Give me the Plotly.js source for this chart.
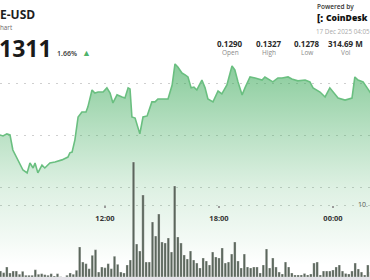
<!DOCTYPE html>
<html><head><meta charset="utf-8">
<script src="https://cdn.plot.ly/plotly-3.0.1.min.js"></script>
<style>html,body{margin:0;padding:0;background:#fff;overflow:hidden}#chart{width:370px;height:280px}</style>
</head><body><div id="chart"></div>
<script>
// ---- data ----
const priceTimes = [
 '2025-12-16 06:28','2025-12-16 06:38','2025-12-16 06:50','2025-12-16 07:00','2025-12-16 07:09','2025-12-16 07:22',
 '2025-12-16 07:32','2025-12-16 07:41','2025-12-16 07:54','2025-12-16 08:03','2025-12-16 08:13','2025-12-16 08:19',
 '2025-12-16 08:28','2025-12-16 08:41','2025-12-16 08:50','2025-12-16 09:06','2025-12-16 09:22','2025-12-16 09:44',
 '2025-12-16 10:03','2025-12-16 10:09','2025-12-16 10:16','2025-12-16 10:25','2025-12-16 10:35','2025-12-16 10:47',
 '2025-12-16 11:00','2025-12-16 11:06','2025-12-16 11:19','2025-12-16 11:28','2025-12-16 11:38','2025-12-16 11:54',
 '2025-12-16 12:06','2025-12-16 12:16','2025-12-16 12:25','2025-12-16 12:38','2025-12-16 12:54','2025-12-16 13:03',
 '2025-12-16 13:13','2025-12-16 13:19','2025-12-16 13:25','2025-12-16 13:35','2025-12-16 13:50','2025-12-16 14:00',
 '2025-12-16 14:13','2025-12-16 14:28','2025-12-16 14:38','2025-12-16 14:47','2025-12-16 15:03','2025-12-16 15:19',
 '2025-12-16 15:32','2025-12-16 15:41','2025-12-16 15:50','2025-12-16 16:03','2025-12-16 16:13','2025-12-16 16:22',
 '2025-12-16 16:32','2025-12-16 16:41','2025-12-16 16:50','2025-12-16 17:06','2025-12-16 17:16','2025-12-16 17:25',
 '2025-12-16 17:41','2025-12-16 17:57','2025-12-16 18:09','2025-12-16 18:25','2025-12-16 18:41','2025-12-16 18:50',
 '2025-12-16 19:00','2025-12-16 19:13','2025-12-16 19:22','2025-12-16 19:38','2025-12-16 19:54','2025-12-16 20:03',
 '2025-12-16 20:16','2025-12-16 20:25','2025-12-16 20:41','2025-12-16 20:50','2025-12-16 21:06','2025-12-16 21:19',
 '2025-12-16 21:38','2025-12-16 21:50','2025-12-16 22:09','2025-12-16 22:32','2025-12-16 22:47','2025-12-16 22:57',
 '2025-12-16 23:19','2025-12-16 23:35','2025-12-16 23:50','2025-12-17 00:00','2025-12-17 00:16','2025-12-17 00:38',
 '2025-12-17 01:00','2025-12-17 01:09','2025-12-17 01:19','2025-12-17 01:35','2025-12-17 01:47','2025-12-17 01:57',
 '2025-12-17 02:05'];
const priceValues = [
 0.13004,0.13000,0.13008,0.13004,0.12946,0.12915,
 0.12885,0.12869,0.12858,0.12896,0.12877,0.12896,
 0.12858,0.12888,0.12877,0.12896,0.12900,0.12908,
 0.12919,0.12935,0.12938,0.12985,0.13073,0.13092,
 0.13092,0.13112,0.13177,0.13165,0.13169,0.13169,
 0.13185,0.13165,0.13127,0.13158,0.13150,0.13146,
 0.13185,0.13181,0.13073,0.13069,0.13008,0.13073,
 0.13077,0.13131,0.13131,0.13142,0.13142,0.13142,
 0.13196,0.13277,0.13265,0.13242,0.13235,0.13227,
 0.13185,0.13188,0.13177,0.13215,0.13185,0.13142,
 0.13131,0.13173,0.13162,0.13196,0.13269,0.13254,
 0.13208,0.13158,0.13185,0.13227,0.13223,0.13219,
 0.13215,0.13227,0.13215,0.13208,0.13223,0.13223,
 0.13227,0.13219,0.13212,0.13215,0.13208,0.13185,
 0.13169,0.13150,0.13185,0.13169,0.13146,0.13138,
 0.13146,0.13227,0.13215,0.13208,0.13188,0.13169,
 0.13154];
// volume per 10-minute bar, in millions
const volumeStart = Date.UTC(2025, 11, 16, 6, 30);
const volumeStepMs = 10 * 60 * 1000;
const volumeValues = [
 0.83,0.60,1.39,0.56,0.83,0.83,0.38,0.79,0.24,0.24,0.24,1.01,0.38,0.46,0.32,0.24,0.46,0.14,0.46,0.04,
 0,0.24,0.56,0.38,0.93,4.17,2.08,1.85,1.15,3.01,3.79,0.69,1.39,1.29,1.85,1.15,2.88,1.76,0.69,0.56,
 1.67,2.36,15.97,4.58,3.61,11.39,2.08,2.08,7.64,5.69,8.75,4.86,4.72,5.42,3.47,12.64,5.56,4.72,3.06,2.50,
 3.61,2.36,1.94,1.25,2.64,2.22,1.67,3.47,2.78,2.64,4.03,1.94,2.08,3.19,4.86,2.22,1.25,3.19,
 1.39,1.25,1.39,1.39,0.56,1.67,3.89,1.25,2.64,1.39,0.69,0.42,2.08,1.39,0.56,0.28,0.28,0.28,0.49,0.28,
 0.42,1.94,2.08,0.28,0.83,0.83,0.83,0.97,1.39,1.67,0.83,0.49,0.42,0.83,1.94,1.11,0.69,0.28,1.67,0.69];
const volumeTimes = volumeValues.map((_, i) => volumeStart + i * volumeStepMs);
const statValues = ['0.1290', '0.1327', '0.1278', '314.69 M'];
const statLabels = ['Open', 'High', 'Low', 'Vol'];
const pairLabel = 'E-USD';
const chartLabel = 'hart';
const lastPrice = '1311';
const changeLabel = '1.66%';
const dateLabel = '17 Dec 2025 04:05';

// ---- layout helpers (pixel -> paper) ----
const W = 370, H = 280;
const px = x => x / W, py = y => 1 - y / H;
const FONT = 'Open Sans, sans-serif';
function ann(text, x, y, size, color, weight, xanchor) {
  return {text, x: px(x), y: py(y), xref: 'paper', yref: 'paper', showarrow: false,
    xanchor: xanchor || 'left', yanchor: 'middle', borderpad: 0,
    font: {family: FONT, size, color, weight: weight || 400}};
}
const annotations = [
  ann(pairLabel, -1, 14.5, 12, '#1e1e1e', 700),
  ann(chartLabel, -1, 27.5, 6.3, '#6a6a6a', 400),
  ann(lastPrice, -2, 48, 23, '#1a1a1a', 700),
  ann(changeLabel, 56, 53, 7, '#333', 600),
  ann('▲', 81, 52.5, 9, '#4fb36a', 400),
  ann('Powered by', 316, 6, 6.5, '#333', 600),
  ann('[:', 316, 17.5, 10, '#111', 800),
  ann('CoinDesk', 325, 17.5, 8.6, '#111', 800),
  ann(dateLabel, 315, 31.5, 6.3, '#aaaaaa', 400)
];
statValues.forEach((v, i) => {
  const cx = 230 + i * 38.5;
  annotations.push(ann(v, cx, 43, 8, '#2a2a2a', 700, 'center'));
  annotations.push(ann(statLabels[i], cx, 52.5, 6.5, '#8a8a8a', 400, 'center'));
});

const traces = [
  {type: 'scatter', mode: 'lines', x: priceTimes, y: priceValues, xaxis: 'x', yaxis: 'y',
   line: {color: '#6abf80', width: 1.6}, fill: 'tozeroy',
   fillgradient: {type: 'vertical', start: 0.12504, stop: 0.13273,
     colorscale: [[0, 'rgba(60,170,90,0)'], [0.125, 'rgba(60,170,90,0.06)'], [0.385, 'rgba(60,170,90,0.17)'],
                  [0.65, 'rgba(60,170,90,0.35)'], [1, 'rgba(60,170,90,0.6)']]},
   hoverinfo: 'skip'},
  {type: 'bar', x: volumeTimes, y: volumeValues, xaxis: 'x', yaxis: 'y2', width: 460000,
   marker: {color: '#5b665c', line: {color: 'rgba(255,255,255,0.55)', width: 0.5}}, hoverinfo: 'skip'}
];

const gridDash = '2px,6px';
const layout = {
  width: W, height: H, margin: {l: 0, r: 0, t: 0, b: 0}, paper_bgcolor: '#fff', plot_bgcolor: '#fff',
  showlegend: false, font: {family: FONT},
  xaxis: {type: 'date', range: ['2025-12-16 06:28:25', '2025-12-17 01:56:50'], anchor: 'free', position: py(205),
    tickformat: '%H:%M', dtick: 6 * 3600000, tick0: '2025-12-16 00:00', showgrid: false, zeroline: false,
    showline: false, ticks: 'outside', ticklen: 1.5, tickwidth: 2, tickcolor: '#9a9a9a', ticklabelstandoff: 4,
    tickfont: {family: FONT, size: 7.5, color: '#333', weight: 700}},
  yaxis: {range: [0.12446, 0.13523], tickvals: [0.128, 0.130, 0.132], showticklabels: false, ticks: '',
    showgrid: true, gridcolor: '#cfcfcf', gridwidth: 1, griddash: gridDash, zeroline: false, showline: false},
  yaxis2: {overlaying: 'y', side: 'right', anchor: 'free', position: px(357), range: [-0.416, 38.47],
    tickvals: [10], ticktext: ['10.'], ticks: '', showgrid: true, gridcolor: '#cfcfcf', gridwidth: 1,
    griddash: gridDash, zeroline: false, showline: false, tickfont: {family: FONT, size: 7, color: '#555'}},
  shapes: [{type: 'rect', xref: 'paper', yref: 'paper', x0: 0, x1: 1, y0: 0, y1: 3 / H,
    fillcolor: '#e6e4ea', line: {width: 0}, layer: 'above'}],
  annotations
};
Plotly.newPlot('chart', traces, layout, {staticPlot: true, displayModeBar: false});
</script></body></html>
